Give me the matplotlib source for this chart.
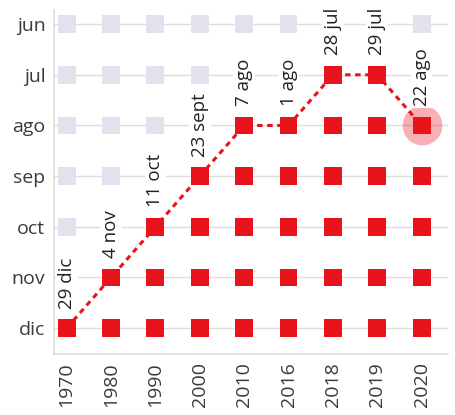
import matplotlib.pyplot as plt
import numpy as np

# data
years = ['1970', '1980', '1990', '2000', '2010', '2016', '2018', '2019', '2020']
months = ['dic', 'nov', 'oct', 'sep', 'ago', 'jul', 'jun']
month_idx = [0, 1, 2, 3, 4, 4, 5, 5, 4]
labels = ['29 dic', '4 nov', '11 oct', '23 sept', '7 ago', '1 ago', '28 jul', '29 jul', '22 ago']

red = '#e8141c'
grey = '#e2e2ec'
plt.rcParams['font.family'] = ['Open Sans', 'DejaVu Sans']

fig = plt.figure(figsize=(4.56, 4.15), dpi=100)
ax = fig.add_axes([0.118, 0.147, 0.864, 0.829])

x = np.arange(len(years))
for i, m in enumerate(month_idx):
    rows = np.arange(len(months))
    cols = [red if r <= m else grey for r in rows]
    ax.scatter(np.full(len(rows), i), rows, marker='s', s=165, c=cols, linewidths=0, zorder=3)

ax.plot(x, month_idx, color=red, lw=2.2, ls=(0, (1.8, 1.5)), zorder=2)

# circulo en el ultimo punto
ax.scatter([x[-1]], [month_idx[-1]], s=820, color='#e8141c', alpha=0.33, linewidths=0, zorder=4)

# etiquetas con fondo blanco (tapan los cuadros grises)
for i, (m, lab) in enumerate(zip(month_idx, labels)):
    ax.annotate(lab, (i, m), xytext=(0, 14), textcoords='offset points',
                rotation=90, ha='center', va='bottom', fontsize=13.5, color='#222222', zorder=5,
                bbox=dict(boxstyle='square,pad=0.1', fc='white', ec='none'))

ax.set_xticks(x)
ax.set_xticklabels(years, rotation=90, fontsize=14, color='#3a3a3a')
ax.set_yticks(np.arange(len(months)))
ax.set_yticklabels(months, fontsize=14, color='#3a3a3a')
ax.tick_params(length=0, pad=6)
ax.set_xlim(-0.29, 8.59)
ax.set_ylim(-0.51, 6.28)
ax.grid(axis='y', color='#dddddd', lw=1, zorder=0)
ax.set_axisbelow(True)
for s in ['top', 'right']:
    ax.spines[s].set_visible(False)
for s in ['left', 'bottom']:
    ax.spines[s].set_color('#dddddd')
    ax.spines[s].set_linewidth(1.2)

fig.savefig('out.png', dpi=100)
